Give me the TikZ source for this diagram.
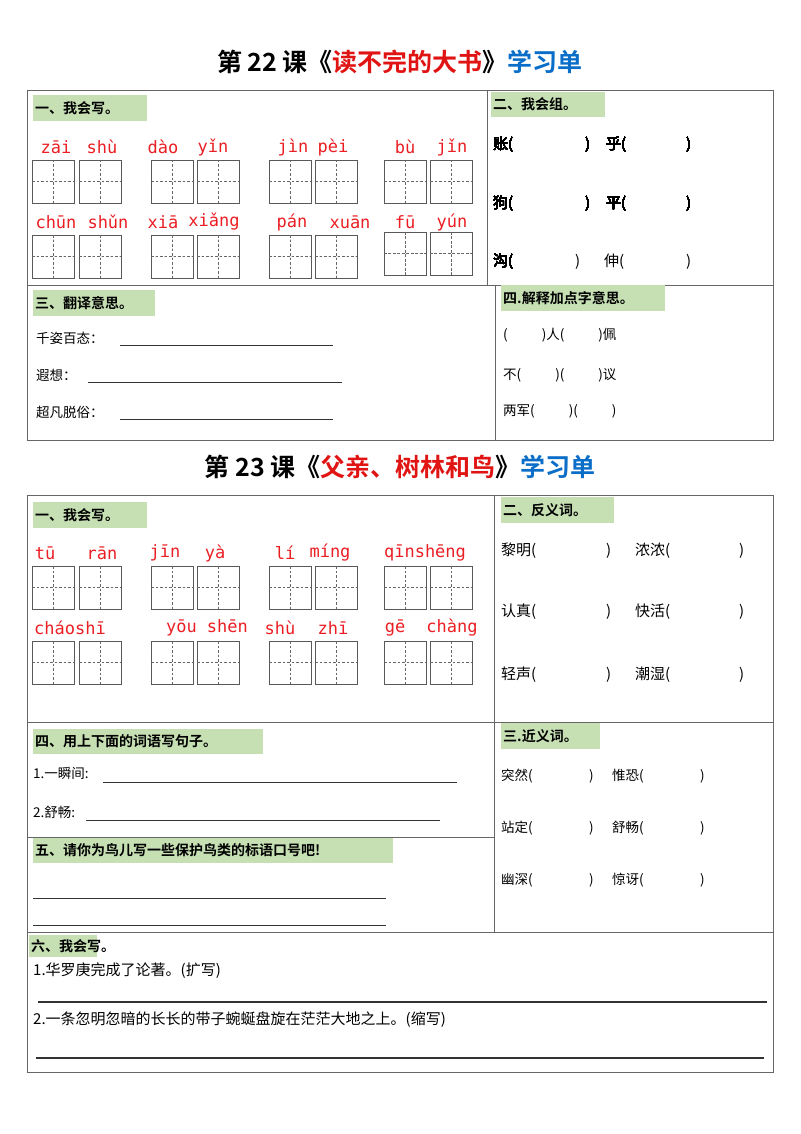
\documentclass[tikz,border=0pt]{standalone}
\usepackage{fontspec}
\setmainfont{Noto Sans CJK SC}
\newfontfamily\cjkr{Noto Sans CJK SC}
\newfontfamily\cjkb{Noto Sans CJK SC Bold}
\newfontfamily\py{DejaVu Sans Mono}
\definecolor{hdr}{RGB}{198,224,180}
\definecolor{pyred}{RGB}{235,30,35}
\definecolor{tblue}{RGB}{10,110,200}
\definecolor{tred}{RGB}{225,20,20}
\tikzset{frame/.style={draw=black!60,line width=0.9pt},
 gb/.style={draw=black!65,line width=0.8pt},
 gd/.style={draw=black!60,dashed,line width=0.5pt,dash pattern=on 2.5pt off 2pt},
 txt/.style={anchor=west,inner sep=0pt,font=\cjkr\fontsize{15}{18}\selectfont},
 stxt/.style={anchor=west,inner sep=0pt,font=\cjkr\fontsize{13.5}{16}\selectfont},
 pyt/.style={inner sep=0pt,text=pyred,font=\py\fontsize{17}{19}\selectfont},
 uline/.style={draw=black!80,line width=0.8pt}}
\newcommand\gbox[2]{\draw[gb] (#1,#2) rectangle ++(42,43);
 \draw[gd] (#1+21,#2) -- ++(0,43); \draw[gd] (#1,#2+21.5) -- ++(42,0);}
\newcommand\hdr[5]{\fill[hdr] (#1,#2) rectangle (#3,#4);
 \node[anchor=west,inner sep=0pt,font=\cjkb\fontsize{14}{16}\selectfont] at (#1+2,{(#2+#4)/2}) {#5};}
\begin{document}
\begin{tikzpicture}[x=1pt,y=-1pt]
\useasboundingbox (0,0) rectangle (800,1134);
\fill[white] (0,0) rectangle (800,1134);
% ---------- lesson 22
\node[font=\cjkb\fontsize{25}{28}\selectfont,inner sep=0pt] (t1) at (400,62) {第 22 课《\textcolor{tred}{读不完的大书}》\textcolor{tblue}{学习单}};
\draw[frame] (27,90) rectangle (773,440);
\draw[frame] (487,90) -- (487,285);
\draw[frame] (27,285) -- (773,285);
\draw[frame] (495,285) -- (495,440);
\hdr{33}{95}{147}{121}{一、我会写。}
\foreach \x/\t in {56/zāi,102/shù,163/dào,213/yǐn,293/jìn,333/pèi,405/bù,452/jǐn}
  \node[pyt] at (\x,147) {\t};
\foreach \x/\t in {56/chūn,108/shǔn,163/xiā,214/xiǎng,292/pán,350/xuān,405/fū,452/yún}
  \node[pyt] at (\x,222) {\t};
\foreach \x in {32,79,151,197,269,315,384,430} \gbox{\x}{160}
\foreach \x in {32,79,151,197,269,315} \gbox{\x}{235}
\gbox{384}{232}\gbox{430}{232}
\hdr{491}{92}{605}{117}{二、我会组。}
\foreach \y/\a/\b in {145/账/乎,204/狗/平}{
 \node[txt] at (493,\y) {\a (};
 \node[txt] at (585,\y) {)};
 \node[txt] at (606,\y) {\b(};
 \node[txt] at (686,\y) {)};}
\node[txt] at (493,262) {沟(};
\node[txt] at (575,262) {)};
\node[txt] at (604,262) {伸(};
\node[txt] at (686,262) {)};
\hdr{33}{290}{155}{316}{三、翻译意思。}
\node[stxt] at (36,338) {千姿百态：};
\draw[uline] (120,345) -- (333,345);
\node[stxt] at (36,375) {遐想：};
\draw[uline] (88,382) -- (342,382);
\node[stxt] at (36,412) {超凡脱俗：};
\draw[uline] (120,419) -- (333,419);
\hdr{501}{285}{665}{311}{四.解释加点字意思。}
\node[stxt] at (503,335) {(\hspace{34pt})人(\hspace{34pt})佩};
\node[stxt] at (503,375) {不(\hspace{34pt})(\hspace{34pt})议};
\node[stxt] at (503,411) {两军(\hspace{34pt})(\hspace{34pt})};
% ---------- lesson 23
\node[font=\cjkb\fontsize{25}{28}\selectfont,inner sep=0pt] (t2) at (400,467) {第 23 课《\textcolor{tred}{父亲、树林和鸟}》\textcolor{tblue}{学习单}};
\draw[frame] (27,495) rectangle (773,1072);
\draw[frame] (494,495) -- (494,932);
\draw[frame] (27,722) -- (773,722);
\draw[frame] (27,837) -- (494,837);
\draw[frame] (27,932) -- (773,932);
\hdr{33}{502}{147}{528}{一、我会写。}
\foreach \x/\t in {45/tū,102/rān,165/jīn,215/yà,285/lí,330/míng,425/qīnshēng}
  \node[pyt] at (\x,553) {\t};
\foreach \x/\t in {70/cháoshī,207/yōu shēn,280/shù,333/zhī,395/gē,452/chàng}
  \node[pyt] at (\x,628) {\t};
\foreach \x in {32,79,151,197,269,315,384,430} {\gbox{\x}{566}\gbox{\x}{641}}
\hdr{501}{497}{614}{523}{二、反义词。}
\foreach \y/\a/\b in {551/黎明/浓浓,612/认真/快活,675/轻声/潮湿}{
 \node[txt] at (501,\y) {\a(};
 \node[txt] at (606,\y) {)};
 \node[txt] at (635,\y) {\b(};
 \node[txt] at (739,\y) {)};}
\hdr{501}{723}{600}{749}{三.近义词。}
\foreach \y/\a/\b in {776/突然/惟恐,828/站定/舒畅,880/幽深/惊讶}{
 \node[stxt] at (501,\y) {\a(};
 \node[stxt] at (589,\y) {)};
 \node[stxt] at (612,\y) {\b(};
 \node[stxt] at (700,\y) {)};}
\hdr{33}{729}{263}{754}{四、用上下面的词语写句子。}
\node[stxt] at (33,773) {1.一瞬间:};
\draw[uline] (103,782) -- (457,782);
\node[stxt] at (33,812) {2.舒畅:};
\draw[uline] (86,820) -- (440,820);
\hdr{33}{838}{393}{863}{五、请你为鸟儿写一些保护鸟类的标语口号吧!}
\draw[uline] (33,898) -- (386,898);
\draw[uline] (33,925) -- (386,925);
\hdr{29}{935}{97}{957}{六、我会写。}
\node[txt] at (33,971) {1.华罗庚完成了论著。(扩写)};
\draw[uline,line width=1.2pt] (38,1002) -- (767,1002);
\node[txt] at (33,1020) {2.一条忽明忽暗的长长的带子蜿蜒盘旋在茫茫大地之上。(缩写)};
\draw[uline,line width=1.2pt] (36,1058) -- (764,1058);
\end{tikzpicture}
\end{document}
